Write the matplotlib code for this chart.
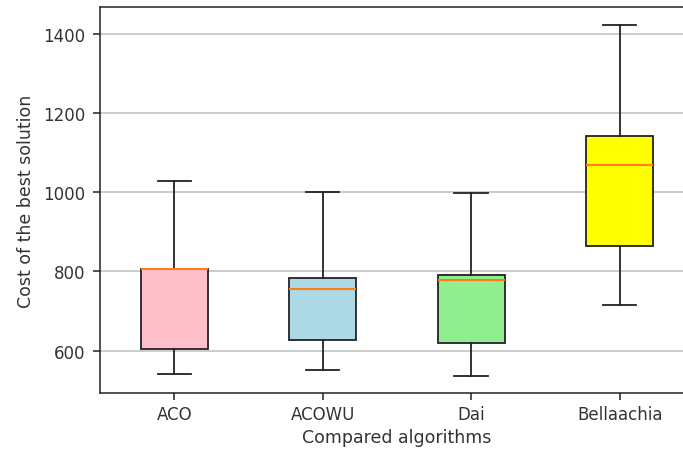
import matplotlib
matplotlib.use("Agg")
import matplotlib.pyplot as plt

# summary statistics of the best-solution cost for each algorithm
algorithms = ["ACO", "ACOWU", "Dai", "Bellaachia"]
whisker_low = [541, 550, 537, 716]
q1 = [604, 626, 619, 864]
median = [805, 756, 778, 1069]
q3 = [805, 783, 791, 1141]
whisker_high = [1028, 1001, 997, 1422]
box_colors = ["pink", "lightblue", "lightgreen", "yellow"]

stats = []
for i, name in enumerate(algorithms):
    stats.append({
        "label": name,
        "whislo": whisker_low[i],
        "q1": q1[i],
        "med": median[i],
        "q3": q3[i],
        "whishi": whisker_high[i],
        "fliers": [],
    })

fig = plt.figure(figsize=(6.83, 4.52), dpi=100)
ax = fig.add_axes([0.1464, 0.1283, 0.8696, 0.8533])

line = dict(color="#222222", linewidth=1.3)
bp = ax.bxp(stats, widths=0.45, patch_artist=True, showfliers=False,
            boxprops=dict(edgecolor="#222222", linewidth=1.3),
            whiskerprops=line, capprops=line,
            medianprops=dict(color="#ff7f0e", linewidth=1.5))
for patch, color in zip(bp["boxes"], box_colors):
    patch.set_facecolor(color)

ax.set_ylim(493, 1467)
ax.set_xlim(0.5, 4.5)
ax.yaxis.grid(True, color="#c4c4c4", linewidth=1.2)
ax.set_axisbelow(True)
for spine in ax.spines.values():
    spine.set_linewidth(1.1)
    spine.set_color("#222222")
ax.tick_params(labelsize=12, color="#222222", width=1.1, length=5)
ax.tick_params(axis="y", pad=5.5)
ax.set_xlabel("Compared algorithms", fontsize=12.5, color="#333333")
ax.set_ylabel("Cost of the best solution", fontsize=12.5, color="#333333",
              labelpad=6)
for lbl in ax.get_xticklabels() + ax.get_yticklabels():
    lbl.set_color("#333333")

fig.savefig("out.png", dpi=100)
